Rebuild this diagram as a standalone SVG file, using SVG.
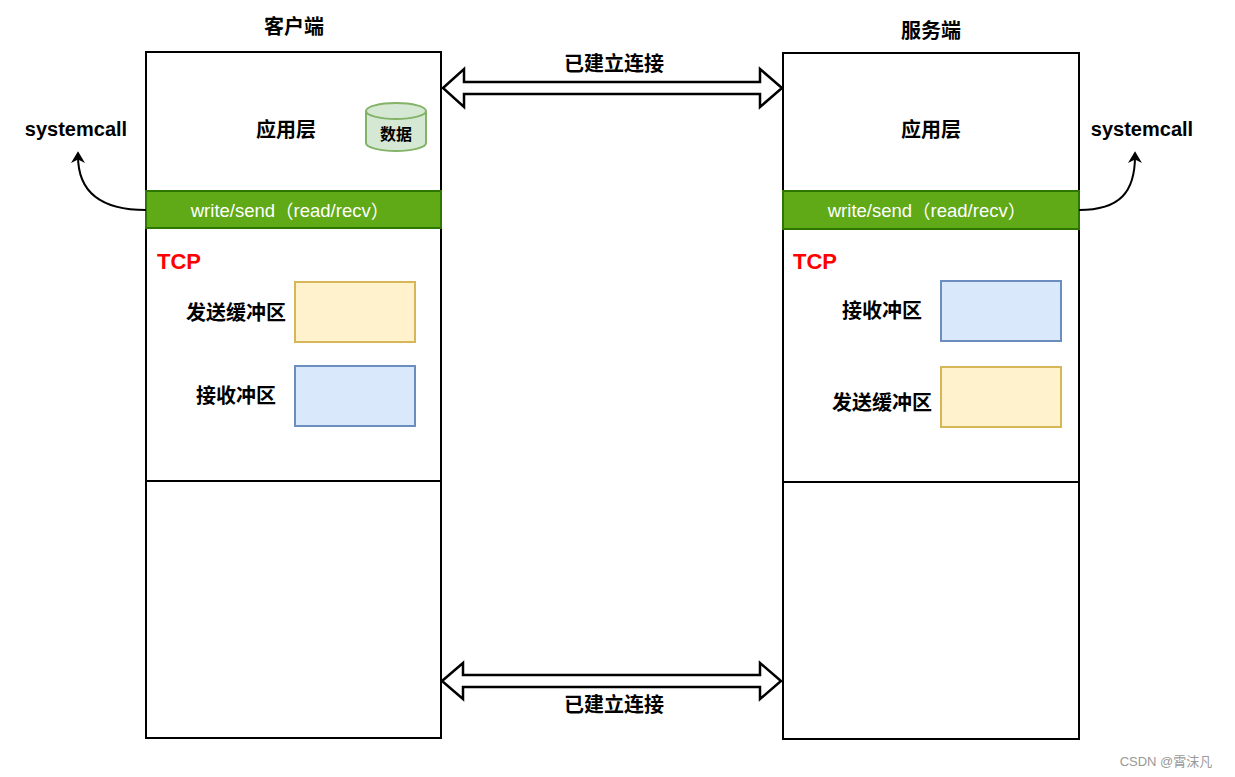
<svg xmlns="http://www.w3.org/2000/svg" width="1235" height="777" viewBox="0 0 1235 777">
<style>
.t{font-family:"Liberation Sans","Noto Sans CJK SC",sans-serif;font-weight:bold;fill:#000;text-anchor:middle;dominant-baseline:central}
.box{fill:#fff;stroke:#000;stroke-width:2}
.ln{stroke:#000;stroke-width:2;fill:none}
.bar{fill:#60a917;stroke:#2d7600;stroke-width:2}
.bt{font-family:"Liberation Sans","Noto Sans CJK SC",sans-serif;font-size:18.5px;fill:#fff;text-anchor:middle;dominant-baseline:central}
.cj{font-family:"Noto Sans CJK SC",sans-serif}
.tcp{font-family:"Liberation Sans",sans-serif;font-weight:bold;font-size:22px;fill:#ff0000}
.send{fill:#fff2cc;stroke:#d6b656;stroke-width:2}
.recv{fill:#dae8fc;stroke:#6c8ebf;stroke-width:2}
.dbl{fill:#fff;stroke:#000;stroke-width:2.5;stroke-linejoin:miter}
</style>
<defs>
<marker id="ah" viewBox="0 0 10 12" refX="6" refY="6" markerWidth="12" markerHeight="14" orient="auto" markerUnits="userSpaceOnUse">
<path d="M0,0 L10,6 L0,12 L3,6 Z" fill="#000"/>
</marker>
</defs>
<rect width="1235" height="777" fill="#fff"/>

<g id="client">
<text class="t" x="294" y="27" font-size="20">客户端</text>
<rect class="box" x="146" y="52" width="295" height="686"/>
<line class="ln" x1="146" y1="481" x2="441" y2="481"/>
<text class="t" x="286" y="130" font-size="20">应用层</text>
</g>
<g id="client-data">
<path d="M366,111 a30,8 0 0 1 60,0 v32 a30,8 0 0 1 -60,0 z" fill="#d5e8d4" stroke="#82b366" stroke-width="2"/>
<path d="M366,111 a30,8 0 0 0 60,0" fill="none" stroke="#82b366" stroke-width="2"/>
<text class="t" x="396" y="134" font-size="16">数据</text>
</g>
<g id="client-api">
<rect class="bar" x="146" y="191" width="295" height="37"/>
<text class="bt" x="290" y="210">write/send<tspan class="cj">（</tspan>read/recv<tspan class="cj">）</tspan></text>
</g>
<g id="client-tcp">
<text class="tcp" x="157" y="269">TCP</text>
<rect class="send" x="295" y="282" width="120" height="60"/>
<text class="t" x="236" y="313" font-size="20">发送缓冲区</text>
<rect class="recv" x="295" y="366" width="120" height="60"/>
<text class="t" x="236" y="396" font-size="20">接收冲区</text>
</g>

<g id="server">
<text class="t" x="931" y="31" font-size="20">服务端</text>
<rect class="box" x="783" y="53" width="296" height="686"/>
<line class="ln" x1="783" y1="482" x2="1079" y2="482"/>
<text class="t" x="931" y="130" font-size="20">应用层</text>
</g>
<g id="server-api">
<rect class="bar" x="783" y="191" width="296" height="38"/>
<text class="bt" x="927" y="210">write/send<tspan class="cj">（</tspan>read/recv<tspan class="cj">）</tspan></text>
</g>
<g id="server-tcp">
<text class="tcp" x="793" y="269">TCP</text>
<rect class="recv" x="941" y="281" width="120" height="60"/>
<text class="t" x="882" y="311" font-size="20">接收冲区</text>
<rect class="send" x="941" y="367" width="120" height="60"/>
<text class="t" x="882" y="403" font-size="20">发送缓冲区</text>
</g>

<g id="syscall-left">
<text class="t" x="76" y="129" font-size="20">systemcall</text>
</g>
<g id="syscall-right">
<text class="t" x="1142" y="129" font-size="20">systemcall</text>
</g>

<g id="connectors">
<path class="ln" d="M146,210 C100,210 78,192 78,156" marker-end="url(#ah)"/>
<path class="ln" d="M1079,210 C1120,210 1135,192 1135,156" marker-end="url(#ah)"/>
<polygon class="dbl" points="443,88 464,69 464,82 760,82 760,69 782,88 760,107 760,94 464,94 464,107"/>
<polygon class="dbl" points="442,681 463,663 463,675 760,675 760,663 781,681 760,699 760,687 463,687 463,699"/>
<text class="t" x="614" y="64" font-size="20">已建立连接</text>
<text class="t" x="614" y="705" font-size="20">已建立连接</text>
</g>

<text x="1166" y="761" font-family="Liberation Sans,'Noto Sans CJK SC',sans-serif" font-size="13" fill="#999" text-anchor="middle" dominant-baseline="central">CSDN @霄沫凡</text>
</svg>
